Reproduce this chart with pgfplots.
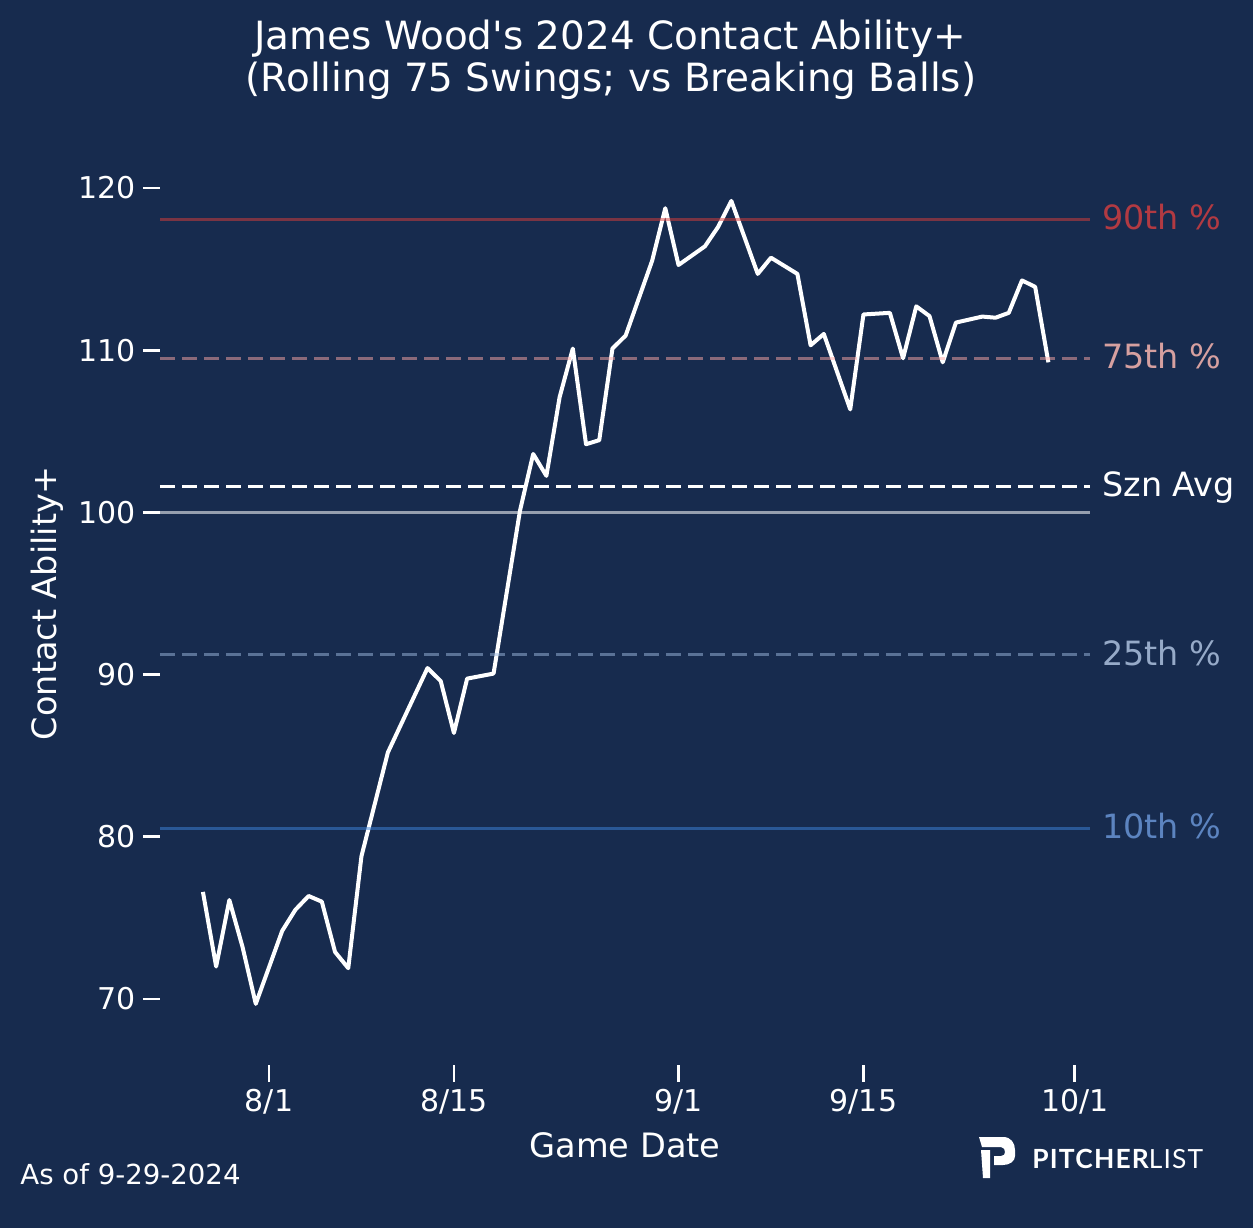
\documentclass[border=0pt]{standalone}
\usepackage{fontspec}
\setmainfont{DejaVu Sans}
\newfontfamily\lato{Lato}
\usepackage{pgfplots}
\pgfplotsset{compat=1.18}
\definecolor{bg}{RGB}{23,43,78}
\definecolor{p90line}{RGB}{221,61,58}
\definecolor{p90txt}{RGB}{178,58,66}
\definecolor{p75line}{RGB}{255,169,166}
\definecolor{p75txt}{RGB}{214,160,160}
\definecolor{p25line}{RGB}{157,185,222}
\definecolor{p25txt}{RGB}{150,170,200}
\definecolor{p10line}{RGB}{61,133,222}
\definecolor{p10txt}{RGB}{92,132,192}
\begin{document}
\begin{tikzpicture}
\fill[bg] (-80pt,-81.5pt) rectangle (546.5pt,532.5pt);
\begin{axis}[
  at={(0,0)}, anchor=south west,
  scale only axis, width=465pt, height=454.75pt,
  xmin=-8.25, xmax=62.15, ymin=65.93, ymax=122,
  axis lines*=left,
  axis line style={draw=none},
  tick align=outside,
  major tick length=8.5pt,
  tick style={white, line width=1.4pt},
  xtick={0,14,31,45,61},
  xticklabels={8/1,8/15,9/1,9/15,10/1},
  ytick={70,80,90,100,110,120},
  ticklabel style={font=\fontsize{15}{17}\selectfont, text=white},
  /pgf/number format/assume math mode=true,
  clip=false,
]
\addplot[white, line width=2pt, line join=round] coordinates {
(-5,76.6) (-4,72.0) (-3,76.1) (-2,73.2) (-1,69.7) (1,74.2) (2,75.5) (3,76.35)
(4,76.0) (5,72.9) (6,71.9) (7,78.8) (9,85.2) (12,90.4) (13,89.6) (14,86.4)
(15,89.75) (17,90.06) (19,100.1) (20,103.6) (21,102.25) (22,107.1) (23,110.1)
(24,104.2) (25,104.45) (26,110.1) (27,110.9) (29,115.5) (30,118.75) (31,115.25)
(33,116.4) (34,117.6) (35,119.2) (37,114.7) (38,115.7) (40,114.7) (41,110.3)
(42,111.0) (44,106.35) (45,112.2) (47,112.3) (48,109.5) (49,112.7) (50,112.1)
(51,109.25) (52,111.7) (54,112.07) (55,112.0) (56,112.3) (57,114.3) (58,113.9)
(59,109.25)
};
\addplot[p90line, opacity=0.5, line width=1.5pt] coordinates {(-8.25,118.03) (62.15,118.03)};
\addplot[p75line, opacity=0.5, line width=1.5pt, dash pattern=on 7.5pt off 3.5pt] coordinates {(-8.25,109.49) (62.15,109.49)};
\addplot[white, line width=1.8pt, dash pattern=on 7.5pt off 3.5pt] coordinates {(-8.25,101.6) (62.15,101.6)};
\addplot[white, opacity=0.55, line width=1.5pt] coordinates {(-8.25,100) (62.15,100)};
\addplot[p25line, opacity=0.5, line width=1.5pt, dash pattern=on 7.5pt off 3.5pt] coordinates {(-8.25,91.21) (62.15,91.21)};
\addplot[p10line, opacity=0.5, line width=1.5pt] coordinates {(-8.25,80.51) (62.15,80.51)};
\end{axis}
\begin{scope}[shift={(-80pt,532.5pt)}, x=0.5pt, y=-0.5pt]
\node[anchor=base, text=white, font=\fontsize{19.45}{22}\selectfont, inner sep=0pt] at (610,49.3) {James Wood\textquotesingle s 2024 Contact Ability+};
\node[anchor=base, text=white, font=\fontsize{19.45}{22}\selectfont, inner sep=0pt] at (611,91.7) {(Rolling 75 Swings; vs Breaking Balls)};
\node[anchor=base, text=white, font=\fontsize{16.8}{19}\selectfont, inner sep=0pt] at (625,1157) {Game Date};
\node[anchor=base, rotate=90, text=white, font=\fontsize{16.75}{19}\selectfont, inner sep=0pt] at (57,603) {Contact Ability+};
\node[anchor=base west, text=white, font=\fontsize{13.8}{16}\selectfont, inner sep=0pt] at (20,1184) {As of 9-29-2024};
\node[anchor=base west, text=p90txt, font=\fontsize{16.7}{19}\selectfont, inner sep=0pt] at (1102,230) {90th \%};
\node[anchor=base west, text=p75txt, font=\fontsize{16.7}{19}\selectfont, inner sep=0pt] at (1102,368.5) {75th \%};
\node[anchor=base west, text=white, font=\fontsize{16.7}{19}\selectfont, inner sep=0pt] at (1102,496) {Szn Avg};
\node[anchor=base west, text=p25txt, font=\fontsize{16.7}{19}\selectfont, inner sep=0pt] at (1102,665) {25th \%};
\node[anchor=base west, text=p10txt, font=\fontsize{16.7}{19}\selectfont, inner sep=0pt] at (1102,838.5) {10th \%};
% logo
\fill[white] (979,1137) -- (1003,1137) .. controls (1011,1137) and (1015,1143) .. (1015,1150) -- (1015,1156) .. controls (1015,1161) and (1010,1165) .. (1003,1165) -- (994,1165) -- (994,1156) -- (1001,1156) .. controls (1004,1156) and (1005,1154) .. (1005,1152) .. controls (1005,1150) and (1004,1147) .. (1001,1147) -- (982,1147) -- cycle;
\fill[white] (981,1150) -- (990,1150) -- (990,1178) -- (983,1178) -- cycle;
\node[anchor=base west, text=white, font=\lato\addfontfeature{LetterSpace=4.5}\fontsize{13.2}{15}\selectfont, inner sep=0pt] at (1032,1168.3) {{\bfseries PITCHER}LIST};
\end{scope}
\end{tikzpicture}
\end{document}
